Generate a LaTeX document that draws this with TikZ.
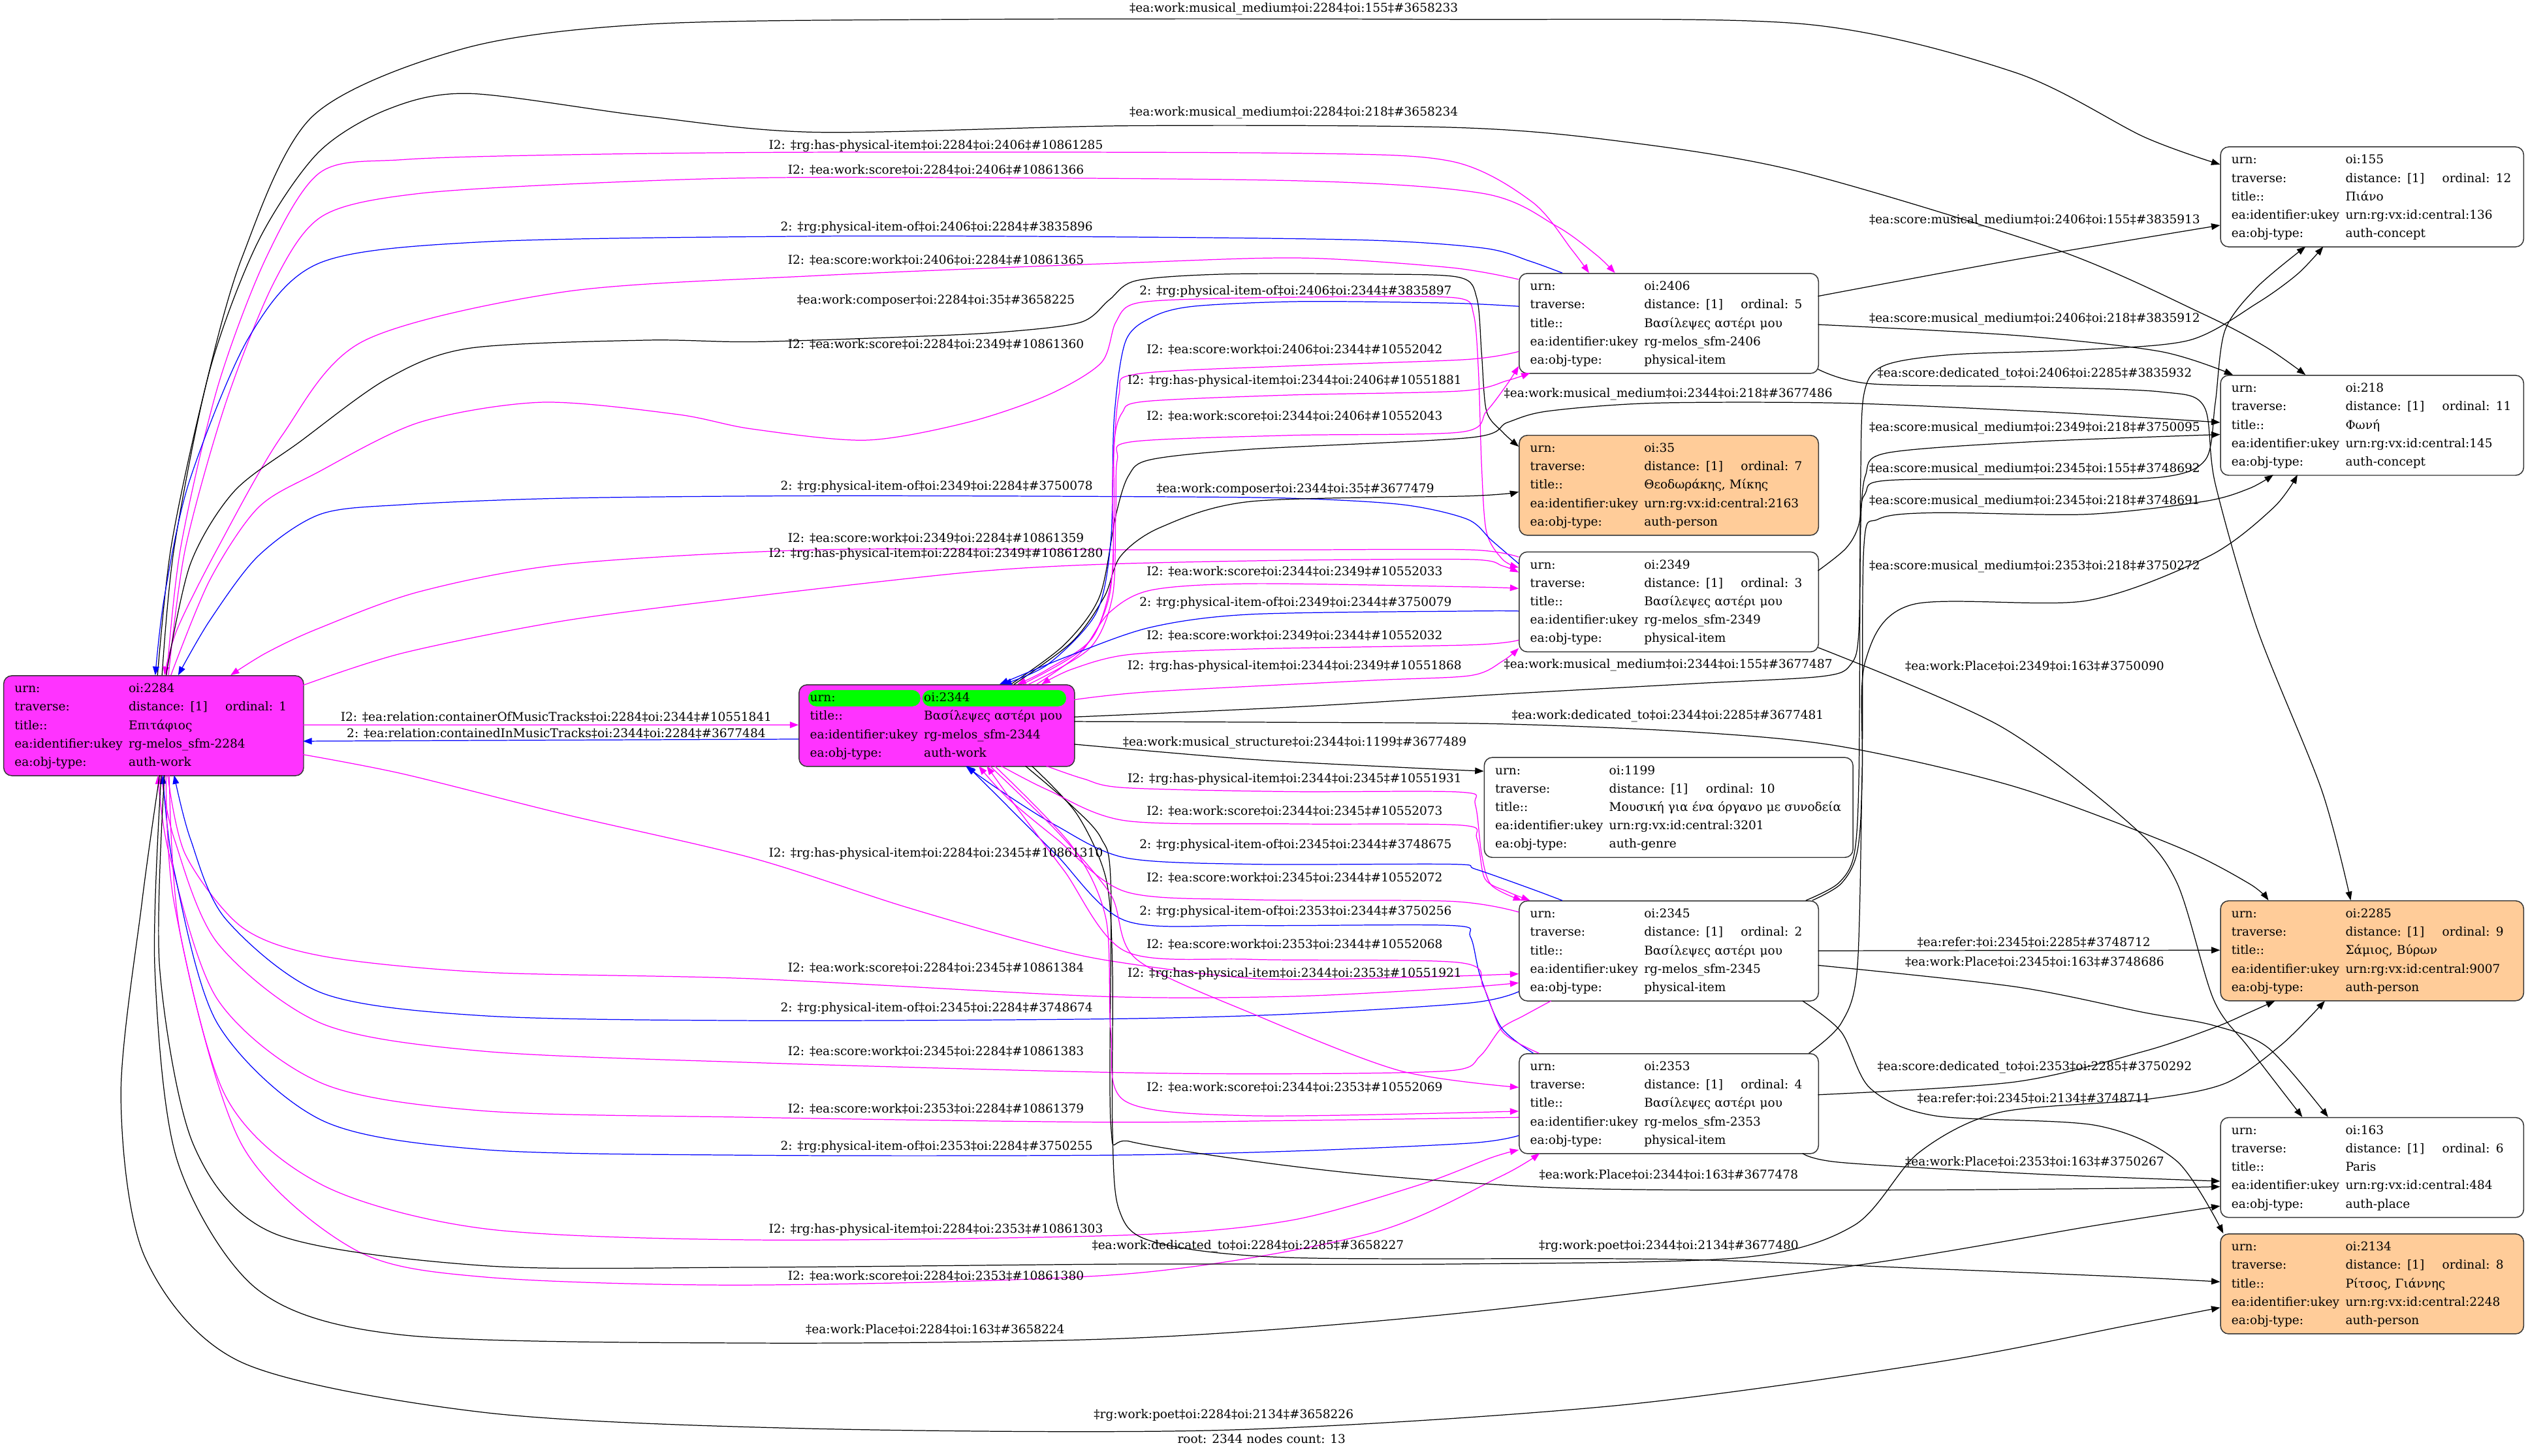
\documentclass[tikz,border=0pt]{standalone}
\usepackage{fontspec}
\setmainfont{DejaVu Serif}
\usetikzlibrary{arrows.meta}
\definecolor{mg}{RGB}{255,0,255}
\definecolor{bl}{RGB}{0,0,255}
\definecolor{nodemag}{RGB}{255,51,255}
\definecolor{peach}{RGB}{255,204,153}
\definecolor{hlgreen}{RGB}{0,255,0}
\newcommand\nf{\fontsize{7.5}{11.4}\selectfont}
\newcommand\rowl[2]{\mbox{\makebox[70.7pt][l]{#1}#2}}
\newcommand\trav[1]{\makebox[60pt][l]{distance: [1]}ordinal: #1}
\newcommand\ncont[5]{\strut\rowl{urn:}{#1}\\\rowl{traverse:}{\trav{#2}}\\\rowl{title::}{#3}\\\rowl{ea:identifier:ukey}{#4}\\\rowl{ea:obj-type:}{#5}\strut}
\tikzset{
  rec/.style={draw=black!80, line width=0.6pt, rounded corners=5pt, anchor=north west,
    inner xsep=6.8pt, inner ysep=0pt, align=left, minimum height=62pt},
  midw/.style={text width=172pt},
  rightw/.style={text width=174.4pt},
  lab/.style={inner sep=0pt, anchor=center, text height=5.5pt, text depth=1.6pt},
  ebase/.style={line width=0.5pt, -{Triangle[length=5.4pt,width=4pt]}},
  em/.style={ebase, draw=mg},
  eb/.style={ebase, draw=bl},
  ek/.style={ebase, draw=black},
}
\begin{document}
\begin{tikzpicture}[x=1pt,y=-1pt, every node/.append style={font=\nf}]
\useasboundingbox (0,0) rectangle (1568,903);
\fill[white] (0,0) rectangle (1568,903);

% ---------- nodes ----------
\node[rec, fill=nodemag, text width=172.4pt] (n2284) at (2,418.8)
  {\ncont{oi:2284}{1}{Επιτάφιος}{rg-melos\_sfm-2284}{auth-work}};
\node[rec, fill=nodemag, text width=157.3pt, minimum height=50.7pt,
  path picture={
   \fill[hlgreen] ([shift={(5.7,3.3)}]path picture bounding box.north west) rectangle ([shift={(75.3,13.4)}]path picture bounding box.north west);
   \fill[hlgreen] ([shift={(76.5,3.3)}]path picture bounding box.north west) rectangle ([shift={(165.7,13.4)}]path picture bounding box.north west);}] (n2344) at (495.3,424.4)
  {\strut\rowl{urn:}{oi:2344}\\\rowl{title::}{Βασίλεψες αστέρι μου}\\\rowl{ea:identifier:ukey}{rg-melos\_sfm-2344}\\\rowl{ea:obj-type:}{auth-work}\strut};
\node[rec, midw] (n2406) at (942,169.3) {\ncont{oi:2406}{5}{Βασίλεψες αστέρι μου}{rg-melos\_sfm-2406}{physical-item}};
\node[rec, midw, fill=peach] (n35) at (942,269.7) {\ncont{oi:35}{7}{Θεοδωράκης, Μίκης}{urn:rg:vx:id:central:2163}{auth-person}};
\node[rec, midw] (n2349) at (942,342) {\ncont{oi:2349}{3}{Βασίλεψες αστέρι μου}{rg-melos\_sfm-2349}{physical-item}};
\node[rec, text width=215.1pt] (n1199) at (920.3,469.5) {\ncont{oi:1199}{10}{Μουσική για ένα όργανο με συνοδεία}{urn:rg:vx:id:central:3201}{auth-genre}};
\node[rec, midw] (n2345) at (942,558.5) {\ncont{oi:2345}{2}{Βασίλεψες αστέρι μου}{rg-melos\_sfm-2345}{physical-item}};
\node[rec, midw] (n2353) at (942,653.2) {\ncont{oi:2353}{4}{Βασίλεψες αστέρι μου}{rg-melos\_sfm-2353}{physical-item}};
\node[rec, rightw] (n155) at (1377,90.8) {\ncont{oi:155}{12}{Πιάνο}{urn:rg:vx:id:central:136}{auth-concept}};
\node[rec, rightw] (n218) at (1377,232.5) {\ncont{oi:218}{11}{Φωνή}{urn:rg:vx:id:central:145}{auth-concept}};
\node[rec, rightw, fill=peach] (n2285) at (1377,558.4) {\ncont{oi:2285}{9}{Σάμιος, Βύρων}{urn:rg:vx:id:central:9007}{auth-person}};
\node[rec, rightw] (n163) at (1377,692.8) {\ncont{oi:163}{6}{Paris}{urn:rg:vx:id:central:484}{auth-place}};
\node[rec, rightw, fill=peach] (n2134) at (1377,765) {\ncont{oi:2134}{8}{Ρίτσος, Γιάννης}{urn:rg:vx:id:central:2248}{auth-person}};

% ---------- edges from / to 2284 top ----------
\draw[ek] plot[smooth,tension=0.5] coordinates {([shift={(95.7,0)}]n2284.north west) (106,340) (125,250) (150,160) (194,72) (288,30) (402,15) (600,12) (900,12) (1120,15) (1250,45) (1330,85) ([shift={(0,11.2)}]n155.north west)};
\draw[ek] plot[smooth,tension=0.5] coordinates {([shift={(98.5,0)}]n2284.north west) (108,340) (130,230) (160,150) (197,95) (240,68) (291,58) (400,72) (506,82) (700,78) (900,79) (1000,87) (1114,106) (1276,155) (1367,195) (1405,215) ([shift={(53,0)}]n218.north west)};
\draw[em] plot[smooth,tension=0.5] coordinates {([shift={(101.4,0)}]n2284.north west) (112,340) (135,240) (165,160) (198.5,107) (250,99) (350,96) (506,94.4) (800,95) (900,100) (950,125) (975,155) ([shift={(43.6,0)}]n2406.north west)};
\draw[em] plot[smooth,tension=0.5] coordinates {([shift={(102.5,0)}]n2284.north west) (115,340) (140,250) (170,175) (200,134) (260,120) (380,113) (506,110) (800,112) (920,120) (965,140) (990,158) ([shift={(59.7,0)}]n2406.north west)};
\draw[eb] plot[smooth,tension=0.5] coordinates {([shift={(27,0)}]n2406.north west) (949,162) (921,154) (850,149) (700,147) (506,146.5) (300,150) (198.5,163) (154.5,209) (117.6,298) (102,370) ([shift={(94.3,0)}]n2284.north west)};
\draw[em] plot[smooth,tension=0.5] coordinates {([shift={(0,4)}]n2406.north west) (900,166) (807,160) (700,163) (506,171) (350,181) (225.5,211.5) (175,270) (135,340) (110,390) ([shift={(100,0)}]n2284.north west)};
\draw[ek] plot[smooth,tension=0.5] coordinates {([shift={(101,0)}]n2284.north west) (118,350) (145,305) (186,274) (240,235) (291,216) (400,211) (466,212) (560,209) (621,206) (670,200) (688,186) (705,174) (760,170) (850,170) (905,172) (916,185) (919,220) (922,255) (932,268) ([shift={(0,7.3)}]n35.north west)};
\draw[em] plot[smooth,tension=0.5] coordinates {([shift={(104,0)}]n2284.north west) (130,360) (160,315) (197,293) (260,262) (336,249.5) (420,257) (466,266) (537,273) (600,262) (650,245) (683,225) (692,200) (705,188) (760,185) (850,184) (905,185) (914,195) (917,230) (919,290) (922,330) (932,347) ([shift={(0,10)}]n2349.north west)};
\draw[eb] plot[smooth,tension=0.5] coordinates {([shift={(0,7.6)}]n2349.north west) (925,335) (910,322) (870,313) (800,309) (700,308) (506,307.5) (350,309) (250,313) (198.5,319) (160,345) (130,385) ([shift={(108.5,0)}]n2284.north west)};
\draw[em] plot[smooth,tension=0.5] coordinates {([shift={(0,3.5)}]n2349.north west) (912,341) (800,341) (700,341) (506,341) (350,350) (260,367) (197,390) (165,405) ([shift={(141,0)}]n2284.north west)};
\draw[em] plot[smooth,tension=0.5] coordinates {([shift={(186,6.2)}]n2284.north west) (250,405) (350,385) (466,370) (600,355) (683,350) (800,347.5) (912,347) (932,351) ([shift={(0,13)}]n2349.north west)};

% ---------- 2284 <-> 2344 ----------
\draw[em] ([shift={(186,30.8)}]n2284.north west) -- ([shift={(0,25.2)}]n2344.north west);
\draw[eb] ([shift={(0,34)}]n2344.north west) -- ([shift={(186,40.9)}]n2284.north west);

% ---------- 2284 right / bottom ----------
\draw[em] plot[smooth,tension=0.5] coordinates {([shift={(186,49.2)}]n2284.north west) (250,480) (350,505) (466,532) (560,562) (640,585) (689,596) (780,607) (880,606) ([shift={(0,45.5)}]n2345.north west)};
\draw[em] plot[smooth,tension=0.5] coordinates {([shift={(102,62)}]n2284.north west) (115,530) (150,575) (200,593) (300,603) (466,607) (683,618) (800,618) (900,613) ([shift={(0,51.1)}]n2345.north west)};
\draw[eb] plot[smooth,tension=0.5] coordinates {([shift={(0,56.5)}]n2345.north west) (912,622) (800,629) (683,632) (466,633) (300,630) (200,616) (140,570) (118,520) ([shift={(106,62)}]n2284.north west)};
\draw[em] plot[smooth,tension=0.5] coordinates {([shift={(20,62.3)}]n2345.north west) (945,630) (931,638) (918,655) (900,664) (800,666) (683,665) (466,659) (300,652) (200,635) (135,585) (108,520) ([shift={(98,62)}]n2284.north west)};
\draw[em] plot[smooth,tension=0.5] coordinates {([shift={(0,39.8)}]n2353.north west) (800,695) (683,696) (466,693) (300,689) (200,672) (135,620) (105,530) ([shift={(96,62)}]n2284.north west)};
\draw[eb] plot[smooth,tension=0.5] coordinates {([shift={(0,51.1)}]n2353.north west) (912,709) (800,714) (683,716.5) (466,716.5) (300,713) (200,695) (135,635) (108,540) ([shift={(99,62)}]n2284.north west)};
\draw[em] plot[smooth,tension=0.5] coordinates {([shift={(101,62)}]n2284.north west) (108,560) (140,680) (200,735) (300,762) (466,769) (700,766) (800,757) (880,735) (925,718) ([shift={(0,60)}]n2353.north west)};
\draw[em] plot[smooth,tension=0.5] coordinates {([shift={(103,62)}]n2284.north west) (112,580) (150,710) (220,775) (300,792) (466,797) (700,790) (850,765) (930,730) ([shift={(13,62.1)}]n2353.north west)};
\draw[ek] plot[smooth,tension=0.5] coordinates {([shift={(98,62)}]n2284.north west) (96,600) (110,720) (160,800) (250,828) (466,833) (700,830) (900,815) (1150,785) (1300,760) ([shift={(0,55.2)}]n163.north west)};
\draw[ek] plot[smooth,tension=0.5] coordinates {([shift={(100,62)}]n2284.north west) (99,600) (120,710) (170,765) (300,785) (466,786) (700,784) (900,784) (1080,780) (1150,760) (1190,715) (1240,690) (1330,682) (1380,672) (1415,648) ([shift={(65,62.4)}]n2285.north west)};
\draw[ek] plot[smooth,tension=0.5] coordinates {([shift={(97,62)}]n2284.north west) (88,560) (75,680) (90,780) (150,845) (300,876) (500,886) (759,887) (1000,872) (1200,845) (1320,822) ([shift={(0,46)}]n2134.north west)};

% ---------- 2344 bottom black ----------
\draw[ek] plot[smooth,tension=0.5] coordinates {([shift={(144.7,50.7)}]n2344.north west) (668,505) (686,545) (690,600) (690,700) (694,750) (715,770) (800,780) (1035,781) (1200,787) (1320,792) ([shift={(0,30)}]n2134.north west)};
\draw[ek] plot[smooth,tension=0.5] coordinates {([shift={(140.7,50.7)}]n2344.north west) (665,500) (683,520) (689,549) (689,698) (701,708) (776,720) (853,729) (950,736) (1035,738) (1200,738) (1320,737) ([shift={(0,43.2)}]n163.north west)};

% ---------- 2344 right ----------
\draw[ek] plot[smooth,tension=0.5] coordinates {([shift={(170.9,37.2)}]n2344.north west) (776,471) (870,476) ([shift={(0,8.8)}]n1199.north west)};
\draw[ek] plot[smooth,tension=0.5] coordinates {([shift={(170.9,20.3)}]n2344.north west) (750,441) (822,437.4) (931,430.6) (1050,424) (1130,419.5) (1148,412) (1153,390) (1154,300) (1156,245) (1168,227) (1210,220) (1290,217) (1358,211) (1400,188) (1425,170) ([shift={(64,62.2)}]n155.north west)};
\draw[ek] plot[smooth,tension=0.5] coordinates {([shift={(170.9,23.1)}]n2344.north west) (800,448) (931,449) (1050,454) (1142,463) (1250,488) (1350,525) (1395,548) ([shift={(30,0)}]n2285.north west)};

% ---------- 2344 top ----------
\draw[ek] plot[smooth,tension=0.5] coordinates {([shift={(131.7,0)}]n2344.north west) (660,400) (682,370) (692,320) (700,295) (714,285) (776,278.6) (912,271.4) (935,262) (960,255) (1026,250) (1142,250) (1260,255) (1330,259) ([shift={(0,29.5)}]n218.north west)};
\draw[ek] plot[smooth,tension=0.5] coordinates {([shift={(133.7,0)}]n2344.north west) (665,398) (685,370) (695,345) (720,327) (776,311) (912,307.6) ([shift={(0,35.3)}]n35.north west)};
\draw[eb] plot[smooth,tension=0.5] coordinates {([shift={(0,20.7)}]n2406.north west) (900,188) (807,187) (740,190) (714,197) (698,212) (691,260) (689,335) (680,380) (650,412) ([shift={(126.7,0)}]n2344.north west)};
\draw[em] plot[smooth,tension=0.5] coordinates {([shift={(0,48.7)}]n2406.north west) (909,223) (800,227) (705,232) (694,245) (690,300) (690,355) (678,395) (650,415) ([shift={(135.7,0)}]n2344.north west)};
\draw[em] plot[smooth,tension=0.5] coordinates {([shift={(138.7,0)}]n2344.north west) (672,402) (688,370) (691,320) (691,275) (696,256) (710,249) (800,245) (906,242.5) (935,236) ([shift={(7,62)}]n2406.north west)};
\draw[em] plot[smooth,tension=0.5] coordinates {([shift={(142.7,0)}]n2344.north west) (676,402) (690,370) (692,320) (693,285) (702,274) (800,270) (906,268) (922,255) (935,238) ([shift={(0,57.7)}]n2406.north west)};
\draw[em] plot[smooth,tension=0.5] coordinates {([shift={(147.7,0)}]n2344.north west) (670,405) (688,380) (714,366) (776,362) (912,364) ([shift={(0,23)}]n2349.north west)};
\draw[eb] plot[smooth,tension=0.5] coordinates {([shift={(0,37)}]n2349.north west) (912,379) (776,381) (714,389) (665,406) ([shift={(124.7,0)}]n2344.north west)};
\draw[em] plot[smooth,tension=0.5] coordinates {([shift={(0,55)}]n2349.north west) (912,400) (776,402.5) (700,406) (665,415) ([shift={(150.7,0)}]n2344.north west)};
\draw[em] plot[smooth,tension=0.5] coordinates {([shift={(170.9,9.6)}]n2344.north west) (714,429) (850,422) (912,419) (932,410) ([shift={(0,60)}]n2349.north west)};

% ---------- 2344 bottom to 2345 / 2353 ----------
\draw[em] plot[smooth,tension=0.5] coordinates {([shift={(153.7,50.7)}]n2344.north west) (672,483) (698,488.6) (800,491) (906,491.3) (915,499) (919,530) (925,549) ([shift={(2,0)}]n2345.north west)};
\draw[em] plot[smooth,tension=0.5] coordinates {([shift={(125.7,50.7)}]n2344.north west) (650,490) (698,509) (800,511) (906,511.8) (916,520) (921,545) (935,553) ([shift={(7,0)}]n2345.north west)};
\draw[eb] plot[smooth,tension=0.5] coordinates {([shift={(27,0)}]n2345.north west) (949,551) (915,539) (900,536) (776,536) (698,532) (655,512) (620,490) ([shift={(103.7,50.7)}]n2344.north west)};
\draw[em] plot[smooth,tension=0.5] coordinates {([shift={(0,7.2)}]n2345.north west) (900,559) (776,558) (698,553) (655,520) (625,495) ([shift={(111.7,50.7)}]n2344.north west)};
\draw[eb] plot[smooth,tension=0.5] coordinates {([shift={(9,0)}]n2353.north west) (931,637) (918,605) (912,581) (900,574) (776,574) (698,571) (655,530) (620,495) ([shift={(104.7,50.7)}]n2344.north west)};
\draw[em] plot[smooth,tension=0.5] coordinates {([shift={(12.5,0)}]n2353.north west) (932,640) (920,612) (905,597) (776,595) (698,590) (660,540) (630,500) ([shift={(116.7,50.7)}]n2344.north west)};
\draw[em] plot[smooth,tension=0.5] coordinates {([shift={(118.7,50.7)}]n2344.north west) (655,515) (689,555) (705,595) (780,630) (868,664) ([shift={(0,21.2)}]n2353.north west)};
\draw[em] plot[smooth,tension=0.5] coordinates {([shift={(121.7,50.7)}]n2344.north west) (665,525) (686,570) (689,640) (698,683) (776,692) ([shift={(0,36)}]n2353.north west)};

% ---------- middle column to right column ----------
\draw[ek] plot[smooth,tension=0.5] coordinates {([shift={(185.6,14.4)}]n2406.north west) (1250,161) ([shift={(0,48.9)}]n155.north west)};
\draw[ek] plot[smooth,tension=0.5] coordinates {([shift={(185.6,32)}]n2406.north west) (1250,208) (1340,218) ([shift={(8,0)}]n218.north west)};
\draw[ek] plot[smooth,tension=0.5] coordinates {([shift={(185.6,59.7)}]n2406.north west) (1160,238) (1260,240) (1340,243) (1367,252) (1374,300) (1400,390) (1440,490) ([shift={(81,0)}]n2285.north west)};
\draw[ek] plot[smooth,tension=0.5] coordinates {([shift={(185.6,12)}]n2349.north west) (1145,340) (1153,325) (1157,295) (1170,281) (1260,274) ([shift={(0,37)}]n218.north west)};
\draw[ek] plot[smooth,tension=0.5] coordinates {([shift={(178,0)}]n2345.north west) (1140,548) (1150,530) (1153,480) (1154,330) (1157,306) (1170,298) (1260,297) (1340,296) (1368,285) (1374,250) (1380,205) (1400,178) ([shift={(53,62.2)}]n155.north west)};
\draw[ek] plot[smooth,tension=0.5] coordinates {([shift={(182,0)}]n2345.north west) (1142,548) (1152,528) (1155,480) (1156,340) (1165,322) (1200,318) (1294,319) (1367,311) (1395,303) ([shift={(33,62)}]n218.north west)};
\draw[ek] plot[smooth,tension=0.5] coordinates {([shift={(180,0)}]n2353.north west) (1142,634.6) (1152,600) (1155,480) (1157,410) (1186,375) (1294,372.6) (1370,345) (1410,315) ([shift={(48,62)}]n218.north west)};
\draw[ek] plot[smooth,tension=0.5] coordinates {([shift={(185.6,59.6)}]n2349.north west) (1240,450) (1320,510) (1350,547) (1373,620) (1395,650) ([shift={(51,0)}]n163.north west)};
\draw[ek] ([shift={(185.6,31.2)}]n2345.north west) -- ([shift={(0,30.9)}]n2285.north west);
\draw[ek] plot[smooth,tension=0.5] coordinates {([shift={(185.6,40.2)}]n2345.north west) (1250,612) (1330,628) (1373,636) (1407,650) ([shift={(67,0)}]n163.north west)};
\draw[ek] plot[smooth,tension=0.5] coordinates {([shift={(176,62.3)}]n2345.north west) (1142,640) (1160,675) (1200,692) (1300,698) (1350,720) ([shift={(2,0)}]n2134.north west)};
\draw[ek] plot[smooth,tension=0.5] coordinates {([shift={(185.6,25.8)}]n2353.north west) (1250,671) (1330,652) (1373,637.5) (1395,628) ([shift={(34,62.4)}]n2285.north west)};
\draw[ek] plot[smooth,tension=0.5] coordinates {([shift={(176,62.1)}]n2353.north west) (1142,721) (1260,728) ([shift={(0,39.8)}]n163.north west)};

% ---------- labels ----------
\node[lab] (l1) at (802.5,5.5) {‡ea:work:musical\_medium‡oi:2284‡oi:155‡\#3658233};
\node[lab] (l2) at (802.5,70) {‡ea:work:musical\_medium‡oi:2284‡oi:218‡\#3658234};
\node[lab] (l3) at (580.5,90.5) {I2: ‡rg:has-physical-item‡oi:2284‡oi:2406‡\#10861285};
\node[lab] (l4) at (580.5,105.8) {I2: ‡ea:work:score‡oi:2284‡oi:2406‡\#10861366};
\node[lab] (l5) at (581,141) {2: ‡rg:physical-item-of‡oi:2406‡oi:2284‡\#3835896};
\node[lab] (l6) at (580.5,162) {I2: ‡ea:score:work‡oi:2406‡oi:2284‡\#10861365};
\node[lab] (l7) at (580.5,186.4) {‡ea:work:composer‡oi:2284‡oi:35‡\#3658225};
\node[lab] (l8) at (580.5,214) {I2: ‡ea:work:score‡oi:2284‡oi:2349‡\#10861360};
\node[lab] (l9) at (581,301.8) {2: ‡rg:physical-item-of‡oi:2349‡oi:2284‡\#3750078};
\node[lab] (l10) at (580.5,334.2) {I2: ‡ea:score:work‡oi:2349‡oi:2284‡\#10861359};
\node[lab] (l11) at (580.5,343.7) {I2: ‡rg:has-physical-item‡oi:2284‡oi:2349‡\#10861280};
\node[lab] (l12) at (345,445.5) {I2: ‡ea:relation:containerOfMusicTracks‡oi:2284‡oi:2344‡\#10551841};
\node[lab] (l13) at (345,455.5) {2: ‡ea:relation:containedInMusicTracks‡oi:2344‡oi:2284‡\#3677484};
\node[lab] (l14) at (580.5,529.5) {I2: ‡rg:has-physical-item‡oi:2284‡oi:2345‡\#10861310};
\node[lab] (l15) at (580.5,600.7) {I2: ‡ea:work:score‡oi:2284‡oi:2345‡\#10861384};
\node[lab] (l16) at (581,625.6) {2: ‡rg:physical-item-of‡oi:2345‡oi:2284‡\#3748674};
\node[lab] (l17) at (580.5,652.8) {I2: ‡ea:score:work‡oi:2345‡oi:2284‡\#10861383};
\node[lab] (l18) at (580.5,688.1) {I2: ‡ea:score:work‡oi:2353‡oi:2284‡\#10861379};
\node[lab] (l19) at (581,711.2) {2: ‡rg:physical-item-of‡oi:2353‡oi:2284‡\#3750255};
\node[lab] (l20) at (580.5,763) {I2: ‡rg:has-physical-item‡oi:2284‡oi:2353‡\#10861303};
\node[lab] (l21) at (580.5,792) {I2: ‡ea:work:score‡oi:2284‡oi:2353‡\#10861380};
\node[lab] (l22) at (580,825) {‡ea:work:Place‡oi:2284‡oi:163‡\#3658224};
\node[lab] (l23) at (774,773) {‡ea:work:dedicated\_to‡oi:2284‡oi:2285‡\#3658227};
\node[lab] (l24) at (759,878) {‡rg:work:poet‡oi:2284‡oi:2134‡\#3658226};
\node[lab] (root) at (782.5,893) {root: 2344 nodes count: 13};

\node[lab] (m1) at (803.6,181) {2: ‡rg:physical-item-of‡oi:2406‡oi:2344‡\#3835897};
\node[lab] (m2) at (803,217.5) {I2: ‡ea:score:work‡oi:2406‡oi:2344‡\#10552042};
\node[lab] (m3) at (803,236.3) {I2: ‡rg:has-physical-item‡oi:2344‡oi:2406‡\#10551881};
\node[lab] (m4) at (803,258.8) {I2: ‡ea:work:score‡oi:2344‡oi:2406‡\#10552043};
\node[lab] (m5) at (803.4,303.6) {‡ea:work:composer‡oi:2344‡oi:35‡\#3677479};
\node[lab] (m6) at (803,355.1) {I2: ‡ea:work:score‡oi:2344‡oi:2349‡\#10552033};
\node[lab] (m7) at (803.6,374.1) {2: ‡rg:physical-item-of‡oi:2349‡oi:2344‡\#3750079};
\node[lab] (m8) at (803,394.9) {I2: ‡ea:score:work‡oi:2349‡oi:2344‡\#10552032};
\node[lab] (m9) at (803,413.3) {I2: ‡rg:has-physical-item‡oi:2344‡oi:2349‡\#10551868};
\node[lab] (m10) at (803,460.6) {‡ea:work:musical\_structure‡oi:2344‡oi:1199‡\#3677489};
\node[lab] (m11) at (803,483.3) {I2: ‡rg:has-physical-item‡oi:2344‡oi:2345‡\#10551931};
\node[lab] (m12) at (803,503.8) {I2: ‡ea:work:score‡oi:2344‡oi:2345‡\#10552073};
\node[lab] (m13) at (803.6,524.4) {2: ‡rg:physical-item-of‡oi:2345‡oi:2344‡\#3748675};
\node[lab] (m14) at (803,544.9) {I2: ‡ea:score:work‡oi:2345‡oi:2344‡\#10552072};
\node[lab] (m15) at (803.6,565.6) {2: ‡rg:physical-item-of‡oi:2353‡oi:2344‡\#3750256};
\node[lab] (m16) at (803,586.2) {I2: ‡ea:score:work‡oi:2353‡oi:2344‡\#10552068};
\node[lab] (m17) at (803,604.2) {I2: ‡rg:has-physical-item‡oi:2344‡oi:2353‡\#10551921};
\node[lab] (m18) at (803,675.1) {I2: ‡ea:work:score‡oi:2344‡oi:2353‡\#10552069};

\node[lab] (r1) at (1034.7,244.6) {‡ea:work:musical\_medium‡oi:2344‡oi:218‡\#3677486};
\node[lab] (r2) at (1034.7,412.4) {‡ea:work:musical\_medium‡oi:2344‡oi:155‡\#3677487};
\node[lab] (r3) at (1034.4,444.2) {‡ea:work:dedicated\_to‡oi:2344‡oi:2285‡\#3677481};
\node[lab] (r4) at (1035,729) {‡ea:work:Place‡oi:2344‡oi:163‡\#3677478};
\node[lab] (r5) at (1035,773) {‡rg:work:poet‡oi:2344‡oi:2134‡\#3677480};

\node[lab] (f1) at (1262,136.8) {‡ea:score:musical\_medium‡oi:2406‡oi:155‡\#3835913};
\node[lab] (f2) at (1262,197.9) {‡ea:score:musical\_medium‡oi:2406‡oi:218‡\#3835912};
\node[lab] (f3) at (1262,232) {‡ea:score:dedicated\_to‡oi:2406‡oi:2285‡\#3835932};
\node[lab] (f4) at (1262,265.5) {‡ea:score:musical\_medium‡oi:2349‡oi:218‡\#3750095};
\node[lab] (f5) at (1262,291.1) {‡ea:score:musical\_medium‡oi:2345‡oi:155‡\#3748692};
\node[lab] (f6) at (1262,311) {‡ea:score:musical\_medium‡oi:2345‡oi:218‡\#3748691};
\node[lab] (f7) at (1262,351.3) {‡ea:score:musical\_medium‡oi:2353‡oi:218‡\#3750272};
\node[lab] (f8) at (1262,413.8) {‡ea:work:Place‡oi:2349‡oi:163‡\#3750090};
\node[lab] (f9) at (1261.5,585) {‡ea:refer:‡oi:2345‡oi:2285‡\#3748712};
\node[lab] (f10) at (1262,597) {‡ea:work:Place‡oi:2345‡oi:163‡\#3748686};
\node[lab] (f11) at (1262,662) {‡ea:score:dedicated\_to‡oi:2353‡oi:2285‡\#3750292};
\node[lab] (f12) at (1261.5,682) {‡ea:refer:‡oi:2345‡oi:2134‡\#3748711};
\node[lab] (f13) at (1262,721) {‡ea:work:Place‡oi:2353‡oi:163‡\#3750267};
\end{tikzpicture}
\end{document}
